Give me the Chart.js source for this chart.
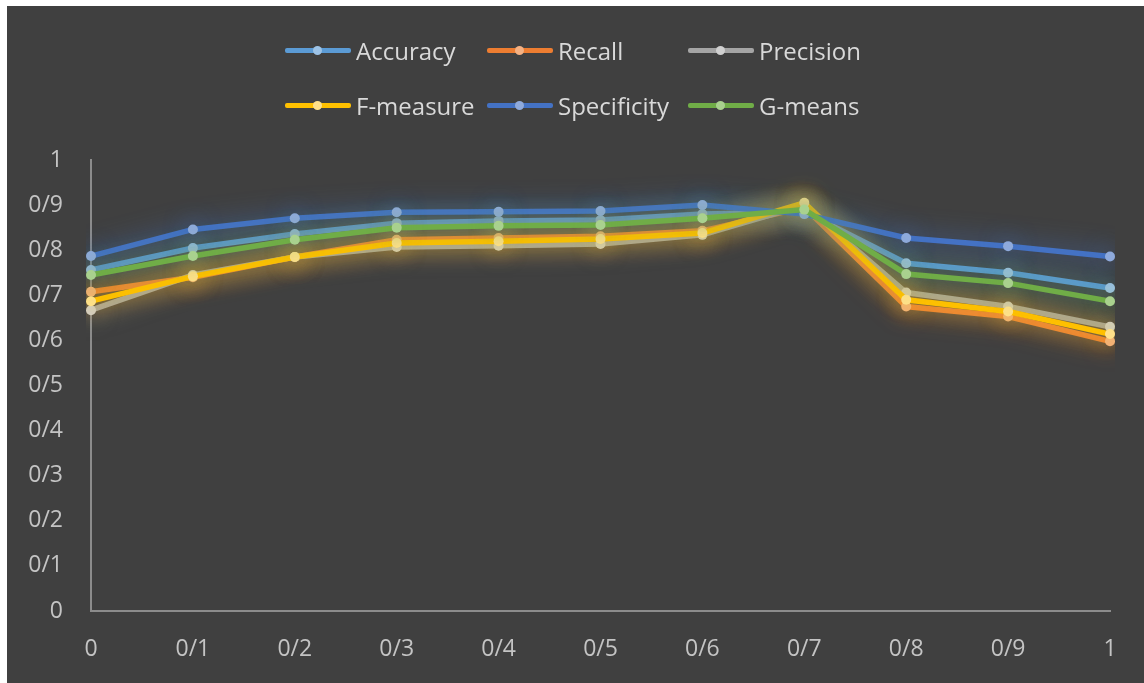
<!DOCTYPE html>
<html>
<head>
<meta charset="utf-8">
<script src="https://cdn.jsdelivr.net/npm/chart.js@4/dist/chart.umd.min.js"></script>
<style>
  html, body { margin: 0; padding: 0; background: #ffffff; }
  body { width: 1144px; height: 683px; overflow: hidden; position: relative; }
  #panel { position: absolute; left: 7px; top: 6px; width: 1137px; height: 677px; background: #404040; }
  #chart { position: absolute; left: 0; top: 0; }
  .legend-item { position: absolute; height: 30px; display: flex; align-items: center;
    font-family: "Open Sans", sans-serif; font-size: 24px; color: #d9d9d9; white-space: nowrap; }
  .legend-line { position: relative; width: 66px; height: 5px; margin-right: 5px; border-radius: 2px; }
  .legend-dot { position: absolute; left: 28px; top: -2px; width: 9px; height: 9px; border-radius: 50%; }
</style>
</head>
<body>
<div id="panel">
  <canvas id="chart" width="1137" height="677"></canvas>
  <div id="legend"></div>
</div>
<script>
// Threshold values along the x axis (written with "/" as the decimal mark)
const categories = ["0", "0/1", "0/2", "0/3", "0/4", "0/5", "0/6", "0/7", "0/8", "0/9", "1"];
const yTickLabels = ["0", "0/1", "0/2", "0/3", "0/4", "0/5", "0/6", "0/7", "0/8", "0/9", "1"];

// Metric values per threshold
const accuracy    = [0.756, 0.805, 0.836, 0.860, 0.865, 0.867, 0.880, 0.885, 0.771, 0.750, 0.716];
const recall      = [0.708, 0.740, 0.785, 0.823, 0.827, 0.831, 0.843, 0.895, 0.675, 0.653, 0.598];
const precision   = [0.667, 0.745, 0.785, 0.807, 0.810, 0.814, 0.834, 0.900, 0.706, 0.675, 0.630];
const fMeasure    = [0.687, 0.742, 0.785, 0.816, 0.820, 0.825, 0.838, 0.905, 0.690, 0.664, 0.614];
const specificity = [0.787, 0.846, 0.871, 0.884, 0.885, 0.887, 0.900, 0.880, 0.827, 0.809, 0.786];
const gMeans      = [0.745, 0.787, 0.823, 0.850, 0.854, 0.856, 0.871, 0.890, 0.747, 0.727, 0.687];

const seriesNames = ["Accuracy", "Recall", "Precision", "F-measure", "Specificity", "G-means"];
const seriesData = [accuracy, recall, precision, fMeasure, specificity, gMeans];
const lineColors = ["#5B9BD5", "#ED7D31", "#A5A5A5", "#FFC000", "#4472C4", "#70AD47"];
const dotColors  = ["#9DC3E6", "#F4B183", "#D0D0D0", "#FFE08A", "#8FAADC", "#A9D18E"];
const glowColors = ["rgba(91,155,213,0.8)", "rgba(237,125,49,0.85)", "rgba(200,200,200,0.6)",
                    "rgba(255,192,0,0.95)", "rgba(68,114,196,0.9)", "rgba(112,173,71,0.75)"];

// Soft coloured halo around each series
const glowPlugin = {
  id: "glow",
  beforeDatasetDraw(chart, args) {
    const ds = chart.data.datasets[args.index];
    chart.ctx.save();
    chart.ctx.shadowColor = ds.glowColor;
    chart.ctx.shadowBlur = 24;
  },
  afterDatasetDraw(chart) {
    chart.ctx.restore();
  }
};

const datasets = seriesNames.map((name, i) => ({
  label: name,
  data: seriesData[i],
  borderColor: lineColors[i],
  backgroundColor: lineColors[i],
  borderWidth: 5.5,
  pointRadius: 5,
  pointHoverRadius: 5,
  pointBorderWidth: 0,
  pointBackgroundColor: dotColors[i],
  tension: 0,
  glowColor: glowColors[i],
  order: seriesNames.length - i
}));

new Chart(document.getElementById("chart"), {
  type: "line",
  data: { labels: categories, datasets },
  plugins: [glowPlugin],
  options: {
    responsive: false,
    animation: false,
    events: [],
    layout: { padding: { top: 154, right: 34, left: 0, bottom: 0 } },
    plugins: { legend: { display: false }, tooltip: { enabled: false } },
    scales: {
      x: {
        type: "category",
        offset: false,
        grid: { display: false, drawTicks: false },
        border: { display: true, color: "#8c8c8c", width: 2 },
        ticks: { color: "#c4c4c4", padding: 25, maxRotation: 0,
                 font: { family: "Open Sans", size: 23 } },
        afterFit(scale) { scale.height = 72; }
      },
      y: {
        min: 0, max: 1,
        grid: { display: false, drawTicks: false },
        border: { display: true, color: "#8c8c8c", width: 2 },
        ticks: {
          stepSize: 0.1, color: "#c4c4c4", padding: 28,
          font: { family: "Open Sans", size: 23 },
          callback: (v) => yTickLabels[Math.round(v * 10)]
        },
        afterFit(scale) { scale.width = 84; }
      }
    }
  }
});

// Legend in two rows of three
const legend = document.getElementById("legend");
const colLeft = [278, 480, 681];
const rowTop = [29, 84];
seriesNames.forEach((name, i) => {
  const item = document.createElement("div");
  item.className = "legend-item";
  item.style.left = colLeft[i % 3] + "px";
  item.style.top = rowTop[Math.floor(i / 3)] + "px";
  const line = document.createElement("div");
  line.className = "legend-line";
  line.style.background = lineColors[i];
  const dot = document.createElement("div");
  dot.className = "legend-dot";
  dot.style.background = dotColors[i];
  line.appendChild(dot);
  item.appendChild(line);
  item.appendChild(document.createTextNode(name));
  legend.appendChild(item);
});
</script>
</body>
</html>
